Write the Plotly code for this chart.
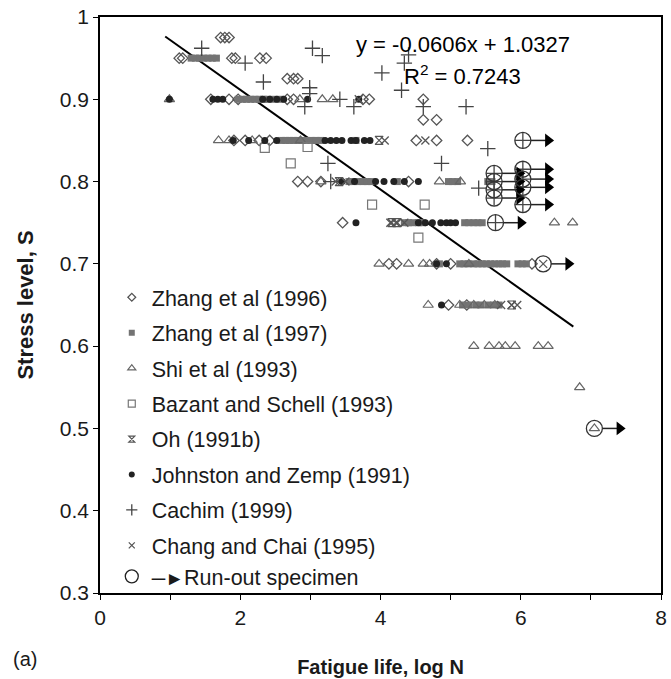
import plotly.graph_objects as go

# ---------------- data ----------------
zhang96_x = [1.72, 1.78, 1.84, 1.13, 1.18, 1.88, 1.93, 2.28, 2.37, 2.67, 2.76, 2.82,
             1.58, 1.84, 1.97, 2.67, 2.76, 3.75, 3.84, 4.61, 4.61, 4.80,
             1.91, 2.07, 2.27, 2.42, 4.51, 4.80, 5.24, 2.82, 2.96, 3.15, 4.40,
             3.46, 4.12, 4.23, 4.80, 5.00, 6.16, 4.97, 5.23]
zhang96_y = [0.975, 0.975, 0.975, 0.95, 0.95, 0.95, 0.95, 0.95, 0.95, 0.925, 0.925, 0.925,
             0.9, 0.9, 0.9, 0.9, 0.9, 0.9, 0.9, 0.9, 0.875, 0.875,
             0.85, 0.85, 0.85, 0.85, 0.85, 0.85, 0.85, 0.8, 0.8, 0.8, 0.8,
             0.75, 0.7, 0.7, 0.7, 0.7, 0.7, 0.65, 0.65]

zhang97_x = [1.30, 1.36, 1.42, 1.48, 1.54, 1.60, 1.66,
             1.97, 2.03, 2.09, 2.15, 2.21, 2.27, 2.33, 2.39, 2.47, 2.57,
             2.59, 2.65, 2.70, 2.76, 2.82, 2.88, 2.94, 3.01, 3.08, 3.15, 3.65,
             3.55, 3.61, 3.67, 3.75, 3.81, 3.87, 4.24, 4.97, 5.03, 5.10, 5.53, 5.59,
             4.34, 4.40, 4.46, 4.54, 4.60, 5.20, 5.26, 5.33, 5.39, 5.45,
             4.84, 5.13, 5.19, 5.25, 5.33, 5.39, 5.45, 5.51, 5.57, 5.63, 5.69, 5.74, 5.80,
             5.96, 6.02, 6.08,
             5.17, 5.26, 5.36, 5.43, 5.53, 5.61, 5.69]
zhang97_y = [0.95] * 7 + [0.9] * 10 + [0.85] * 11 + [0.8] * 12 + [0.75] * 10 + [0.7] * 16 + [0.65] * 7

shi_x = [0.99, 2.85, 3.17, 3.32, 1.69, 1.84, 2.17, 2.86, 3.15, 4.84, 5.14, 6.48, 6.74,
         3.98, 4.40, 4.61, 4.70, 5.26, 4.68, 5.13, 5.33, 5.48, 5.63,
         5.33, 5.55, 5.69, 5.78, 5.92, 6.25, 6.39, 6.84, 7.05]
shi_y = [0.9, 0.9, 0.9, 0.9, 0.85, 0.85, 0.85, 0.85, 0.8, 0.8, 0.8, 0.75, 0.75,
         0.7, 0.7, 0.7, 0.7, 0.7, 0.65, 0.65, 0.65, 0.65, 0.65,
         0.6, 0.6, 0.6, 0.6, 0.6, 0.6, 0.6, 0.55, 0.5]

bazant_x = [2.35, 2.96, 2.72, 3.88, 4.63, 4.54]
bazant_y = [0.841, 0.842, 0.822, 0.772, 0.772, 0.732]

oh_x = [3.98, 3.41, 4.16, 4.24, 5.87]
oh_y = [0.85, 0.8, 0.75, 0.75, 0.65]

johnston_x = [0.99, 1.61, 1.68, 1.75, 2.32, 2.42, 2.52, 2.62, 2.96, 3.69,
              1.90, 2.12, 2.35, 2.52, 3.21, 3.29, 3.37, 3.45, 3.58, 3.65, 3.77, 3.85,
              3.45, 3.63, 3.93, 4.05, 4.19, 4.34, 4.54,
              3.65, 4.54, 4.64, 4.74, 4.86, 4.94, 5.00, 5.07,
              4.80, 4.94, 4.87]
johnston_y = [0.9] * 10 + [0.85] * 12 + [0.8] * 7 + [0.75] * 8 + [0.7] * 2 + [0.65]

cachim_x = [1.45, 2.07, 2.33, 3.03, 3.17, 4.40, 4.34, 4.02, 4.30, 2.99, 2.99, 2.92,
            3.62, 4.61, 5.22, 5.53, 3.25, 4.87, 3.29, 5.40, 3.42,
            6.03, 5.62, 5.62, 5.62, 5.62, 6.03, 6.03, 6.03, 6.03, 5.64]
cachim_y = [0.962, 0.944, 0.921, 0.962, 0.953, 0.954, 0.944, 0.932, 0.911, 0.914, 0.907, 0.891,
            0.891, 0.891, 0.891, 0.84, 0.822, 0.822, 0.8, 0.792, 0.9,
            0.85, 0.81, 0.80, 0.79, 0.78, 0.815, 0.803, 0.793, 0.772, 0.75]

chang_x = [3.69, 4.06, 4.64, 3.36, 3.50, 4.14, 4.22, 4.34, 5.72, 5.87, 5.95, 6.32]
chang_y = [0.9, 0.85, 0.85, 0.8, 0.8, 0.75, 0.75, 0.75, 0.65, 0.65, 0.65, 0.7]

runout_x = [6.03, 5.62, 5.62, 5.62, 5.62, 6.03, 6.03, 6.03, 6.03, 5.64, 6.32, 7.05]
runout_y = [0.85, 0.81, 0.80, 0.79, 0.78, 0.815, 0.803, 0.793, 0.772, 0.75, 0.70, 0.50]

slope, intercept, r2 = -0.0606, 1.0327, 0.7243
fit_range = [0.93, 6.75]

x_ticks = [0, 1, 2, 3, 4, 5, 6, 7, 8]
x_ticktext = ["0", "", "2", "", "4", "", "6", "", "8"]
y_ticks = [0.3, 0.4, 0.5, 0.6, 0.7, 0.8, 0.9, 1.0]
y_ticktext = ["0.3", "0.4", "0.5", "0.6", "0.7", "0.8", "0.9", "1"]

# ---------------- figure ----------------
FONT = "Arial, Liberation Sans, sans-serif"
TXT = "#1a1a1a"
fig = go.Figure()

# regression line
fig.add_trace(go.Scatter(x=fit_range, y=[slope * v + intercept for v in fit_range],
                         mode="lines", line=dict(color="black", width=2),
                         showlegend=False, hoverinfo="skip"))

series = [
    ("Zhang et al (1996)", zhang96_x, zhang96_y,
     dict(symbol="diamond-open", size=8, color="#555", line=dict(width=1.3, color="#555")), 6),
    ("Zhang et al (1997)", zhang97_x, zhang97_y,
     dict(symbol="square", size=7, color="#737373", line=dict(width=0)), 6),
    ("Shi et al (1993)", shi_x, shi_y,
     dict(symbol="triangle-up-open", size=9, color="#666", line=dict(width=1.2, color="#666")), 7),
    ("Bazant and Schell (1993)", bazant_x, bazant_y,
     dict(symbol="square-open", size=9, color="#777", line=dict(width=1.2, color="#777")), 7),
    ("Oh (1991b)", oh_x, oh_y,
     dict(symbol="hourglass-open", size=8, color="#555", line=dict(width=1.2, color="#555")), 6),
    ("Johnston and Zemp (1991)", johnston_x, johnston_y,
     dict(symbol="circle", size=7, color="#222", line=dict(width=0)), 6),
    ("Cachim (1999)", cachim_x, cachim_y,
     dict(symbol="cross-thin-open", size=11, color="#444", line=dict(width=1.3, color="#444")), 8),
    ("Chang and Chai (1995)", chang_x, chang_y,
     dict(symbol="x-thin-open", size=8, color="#555", line=dict(width=1.3, color="#555")), 6),
]
for i, (name, xs, ys, mk, lsize) in enumerate(series):
    fig.add_trace(go.Scatter(x=xs, y=ys, mode="markers", name=name, marker=mk,
                             showlegend=False))

# run-out arrows
ARROW_START, ARROW_END = 0.11, 0.36
lx, ly = [], []
for xv, yv in zip(runout_x, runout_y):
    lx += [xv + ARROW_START, xv + ARROW_END, None]
    ly += [yv, yv, None]
fig.add_trace(go.Scatter(x=lx, y=ly, mode="lines", line=dict(color="#222", width=1.5),
                         showlegend=False, hoverinfo="skip"))
fig.add_trace(go.Scatter(x=[v + ARROW_END for v in runout_x], y=runout_y, mode="markers",
                         marker=dict(symbol="triangle-right", size=12, color="black"),
                         showlegend=False, hoverinfo="skip"))
fig.add_trace(go.Scatter(x=runout_x, y=runout_y, mode="markers", name="Run-out specimen",
                         marker=dict(symbol="circle-open", size=16, color="#333",
                                     line=dict(width=1.3, color="#333")),
                         showlegend=False))

# legend-only entries (small symbols as in the reference legend)
for i, (name, xs, ys, mk, lsize) in enumerate(series):
    lm = dict(mk)
    lm["size"] = lsize
    grp = "g7" if i == 7 else f"g{i}"
    fig.add_trace(go.Scatter(x=[None], y=[None], mode="markers", name=name, marker=lm,
                             legendgroup=grp, legendrank=i + 1))
fig.add_trace(go.Scatter(x=[None], y=[None], mode="markers",
                         name="<span style='font-size:19px'>─►</span>Run-out specimen",
                         marker=dict(symbol="circle-open", size=13, color="#222",
                                     line=dict(width=1.3, color="#222")),
                         legendgroup="g7", legendrank=9))

fig.add_annotation(x=0.647, y=0.952, xref="paper", yref="paper", showarrow=False,
                   xanchor="center", yanchor="middle",
                   text=f"y = {slope}x + {intercept}", font=dict(family=FONT, size=22, color="black"))
fig.add_annotation(x=0.647, y=0.899, xref="paper", yref="paper", showarrow=False,
                   xanchor="center", yanchor="middle",
                   text=f"R<sup>2</sup> = {r2}", font=dict(family=FONT, size=22, color="black"))
fig.add_annotation(x=-0.133, y=-0.114, xref="paper", yref="paper", showarrow=False,
                   xanchor="center", yanchor="middle",
                   text="(a)", font=dict(family=FONT, size=20, color=TXT))

fig.update_layout(
    width=671, height=679,
    margin=dict(l=100, r=4, t=17, b=82),
    paper_bgcolor="white", plot_bgcolor="white",
    font=dict(family=FONT, size=20, color=TXT),
    showlegend=True,
    legend=dict(x=0.021, y=0.549, xanchor="left", yanchor="top", bgcolor="rgba(0,0,0,0)",
                font=dict(family=FONT, size=21.5, color=TXT), tracegroupgap=4.5,
                traceorder="grouped", itemsizing="trace"),
    xaxis=dict(range=[0, 8], tickvals=x_ticks, ticktext=x_ticktext, ticks="outside", ticklen=5,
               tickwidth=1.3, tickcolor="black", showline=True, linecolor="black", linewidth=1.5,
               mirror=True, showgrid=False, zeroline=False, tickfont=dict(size=21),
               title=dict(text="<b>Fatigue life, log N</b>", standoff=32, font=dict(size=20, color=TXT))),
    yaxis=dict(range=[0.3, 1.0], tickvals=y_ticks, ticktext=y_ticktext, ticks="outside", ticklen=5,
               tickwidth=1.3, tickcolor="black", showline=True, linecolor="black", linewidth=1.5,
               mirror=True, showgrid=False, zeroline=False, tickfont=dict(size=21),
               title=dict(text="<b>Stress level, S</b>", standoff=20, font=dict(size=22, color=TXT))),
)

fig.write_html("out.html")
